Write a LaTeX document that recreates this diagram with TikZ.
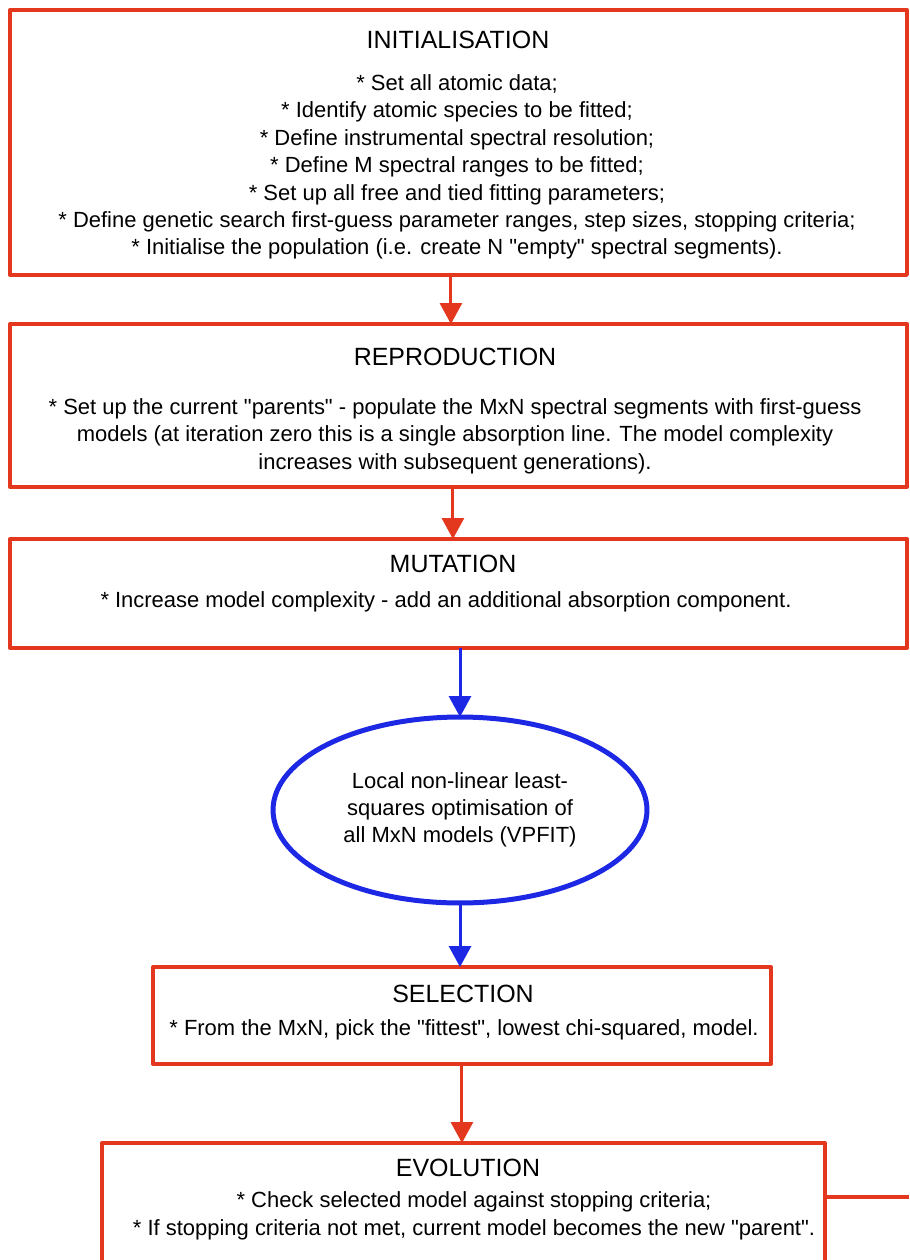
\documentclass[tikz,border=0pt]{standalone}
\usepackage{fontspec}
\setmainfont{Liberation Sans}[Ligatures=TeXOff]
\usetikzlibrary{arrows.meta,shapes.geometric}
\definecolor{boxred}{RGB}{228,56,30}
\definecolor{ovalblue}{RGB}{28,40,228}
\begin{document}
\begin{tikzpicture}[x=0.02cm,y=-0.02cm,line join=round,
	box/.style={draw=boxred,line width=0.08cm,inner sep=0pt,outer sep=0pt,anchor=north west},
	oval/.style={ellipse,draw=ovalblue,line width=0.1cm,inner sep=0pt,outer sep=0pt,minimum width=7.48cm,minimum height=3.72cm,align=center,font=\fontsize{12.5}{15.4}\selectfont},
	head/.style={anchor=base,inner sep=0pt,font=\fontsize{14.2}{17}\selectfont},
	body/.style={anchor=base,inner sep=0pt,align=center,font=\fontsize{12.5}{15.65}\selectfont},
	redarrow/.style={draw=boxred,line width=0.06cm,-{Triangle[length=0.42cm,width=0.44cm]}},
	bluearrow/.style={draw=ovalblue,line width=0.06cm,-{Triangle[length=0.42cm,width=0.44cm]}}]
	\useasboundingbox (0,0) rectangle (909,1260);
	\clip (0,0) rectangle (909,1260);
	\node[box,minimum width=17.94cm,minimum height=5.3cm] (init) at (10,10) {};
	\node[box,minimum width=17.94cm,minimum height=3.26cm] (repro) at (10,324) {};
	\node[box,minimum width=17.94cm,minimum height=2.18cm] (mut) at (10,539) {};
	\node[oval] (vpfit) at (460,810) {Local non-linear least-\\squares optimisation of\\all MxN models (VPFIT)};
	\node[box,minimum width=12.36cm,minimum height=1.94cm] (sel) at (153,967) {};
	\node[box,minimum width=14.46cm,minimum height=2.8cm] (evo) at (102,1143) {};
	\node[head] (inithead) at (458,49) {INITIALISATION};
	\node[body] (initbody) at (457,255) {* Set all atomic data;\\
		* Identify atomic species to be fitted;\\
		* Define instrumental spectral resolution;\\
		* Define M spectral ranges to be fitted;\\
		* Set up all free and tied fitting parameters;\\
		* Define genetic search first-guess parameter ranges, step sizes, stopping criteria;\\
		* Initialise the population (i.e. create N "empty" spectral segments).};
	\node[head] (reprohead) at (455,365) {REPRODUCTION};
	\node[body] (reprobody) at (455,469) {* Set up the current "parents" - populate the MxN spectral segments with first-guess\\
		models (at iteration zero this is a single absorption line. The model complexity\\
		increases with subsequent generations).};
	\node[head] (muthead) at (453,572) {MUTATION};
	\node[body] (mutbody) at (446,607) {* Increase model complexity - add an additional absorption component.};
	\node[head] (selhead) at (463,1002) {SELECTION};
	\node[body] (selbody) at (464,1035) {* From the MxN, pick the "fittest", lowest chi-squared, model.};
	\node[head] (evohead) at (468,1176) {EVOLUTION};
	\node[body] (evobody) at (474,1235) {* Check selected model against stopping criteria;\\
		* If stopping criteria not met, current model becomes the new "parent".};
	\draw[redarrow] ([xshift=-0.15cm]init.south) -- ([xshift=-0.15cm]repro.north);
	\draw[redarrow] ([xshift=-0.11cm]repro.south) -- ([xshift=-0.11cm]mut.north);
	\draw[bluearrow] (vpfit.north |- mut.south) -- (vpfit.north);
	\draw[bluearrow] (vpfit.south) -- (vpfit.south |- sel.north);
	\draw[redarrow] (sel.south) -- (sel.south |- evo.north);
	\coordinate (loopend) at (909,1197);
	\draw[boxred,line width=0.08cm] (evo.east |- loopend) -- (loopend);
\end{tikzpicture}
\end{document}
